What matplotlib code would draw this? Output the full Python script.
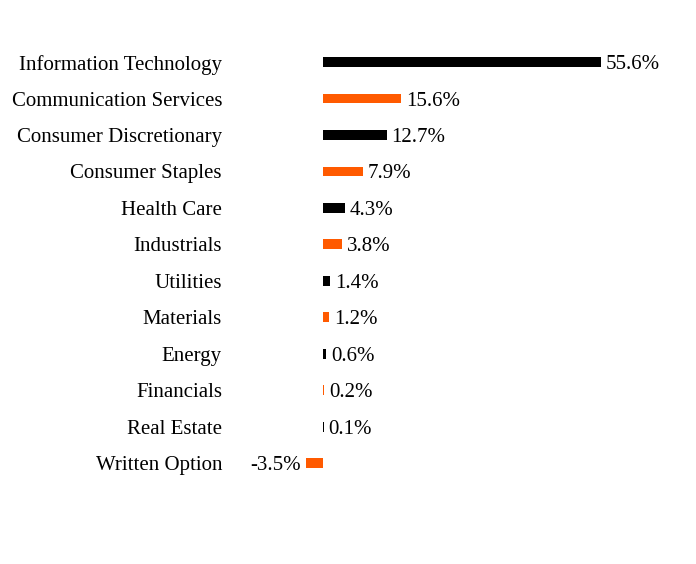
import matplotlib.pyplot as plt

sectors = ["Information Technology", "Communication Services", "Consumer Discretionary",
           "Consumer Staples", "Health Care", "Industrials", "Utilities", "Materials",
           "Energy", "Financials", "Real Estate", "Written Option"]
weights = [55.6, 15.6, 12.7, 7.9, 4.3, 3.8, 1.4, 1.2, 0.6, 0.2, 0.1, -3.5]
colors = ["#000000", "#FF5A00"]

plt.rcParams['font.family'] = ['Liberation Serif', 'DejaVu Serif']

fig = plt.figure(figsize=(6.96, 5.64), dpi=100)
# zero line sits at x=323px, 5px per percent
ax = fig.add_axes([0, 0.1466, 1, 0.7757])
ax.set_xlim(-64.6, 74.6)
ax.set_ylim(len(sectors) - 0.5, -0.5)
ax.axis('off')

for i, (name, w) in enumerate(zip(sectors, weights)):
    ax.barh(i, w, height=0.27, color=colors[i % 2])
    ax.text(-20.2, i, name, ha='right', va='center_baseline', fontsize=15)
    if w >= 0:
        ax.text(w + 1.0, i, f"{w:.1f}%", ha='left', va='center_baseline', fontsize=15)
    else:
        ax.text(w - 1.0, i, f"{w:.1f}%", ha='right', va='center_baseline', fontsize=15)

fig.savefig("out.png", dpi=100)
